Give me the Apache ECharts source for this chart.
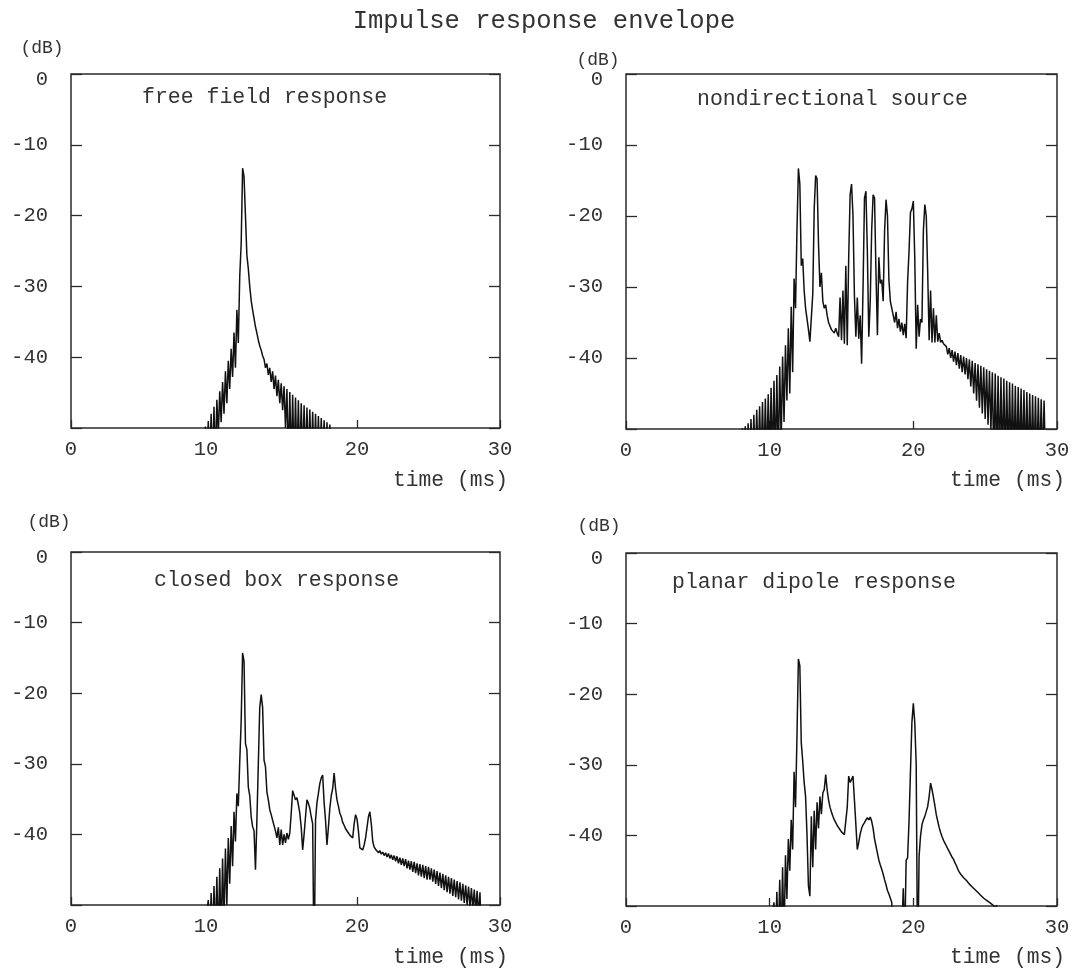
<!DOCTYPE html>
<html><head><meta charset="utf-8">
<script src="https://cdn.jsdelivr.net/npm/echarts@6/dist/echarts.min.js"></script>
<style>html,body{margin:0;padding:0;background:#fff}#chart{width:1073px;height:970px}</style>
</head><body><div id="chart"></div>
<script>
// ---- data (time in ms, level in dB) ----
const sampleStep = 0.1;            // ms between samples
const xTickValues = [0, 10, 20, 30];
const yTickValues = [0, -10, -20, -30, -40];
const chartTitle = 'Impulse response envelope';
const panelTitles = ['free field response', 'nondirectional source', 'closed box response', 'planar dipole response'];

const freeFieldStart = 9.4;
const freeFieldDb = [
 -49.8,-55,-49.0,-55,-48.0,-55,-47.0,-55,-46.0,-51,
 -44.8,-49.2,-43.5,-48.0,-42.0,-46.5,-40.5,-44.5,-38.8,-42.8,
 -36.5,-41.5,-33.3,-38,-28.6,-24,-13.3,-14.5,-20,-25.6,
 -27.5,-30.0,-32.0,-33.3,-34.5,-35.7,-36.6,-37.6,-38.4,-39.0,
 -39.8,-40.3,-41.5,-40.9,-42.5,-41.5,-43.5,-42.0,-44.5,-42.6,
 -45.5,-43.2,-46.5,-43.7,-47.5,-44.1,-50,-44.5,-55,-44.9,
 -55,-45.3,-55,-45.7,-55,-46.1,-55,-46.5,-55,-46.8,
 -55,-47.1,-55,-47.4,-55,-47.7,-55,-48.0,-55,-48.3,
 -55,-48.6,-55,-48.9,-55,-49.2,-55,-49.5,-55
];

const nondirStart = 8.0;
const nondirDb = [
 -52,-49.9,-55,-49.6,-55,-49.2,-55,-48.6,-55,-48.0,
 -55,-47.3,-55,-46.8,-55,-46.2,-55,-45.7,-55,-45.1,
 -55,-44.2,-55,-43.2,-55,-42.4,-55,-41.2,-52,-39.8,
 -49,-38.2,-46,-35.8,-45,-32.8,-42,-28.8,-33,-22,
 -13.3,-15.5,-27,-26,-30.5,-33,-34.5,-36,-37.7,-37.7,
 -31,-19,-14.3,-14.8,-24,-30,-28,-32,-33,-32.5,
 -34,-35,-35,-36,-36,-36.5,-35.8,-36.5,-37,-31.5,
 -37.5,-30.5,-38,-27,-38.2,-26,-17,-15.5,-20,-31.3,
 -37,-31.5,-37.3,-34,-40.8,-30,-17.5,-16.5,-25,-37,
 -32,-22,-17,-17.5,-28,-36.8,-25.8,-29.5,-29,-32,
 -22,-17.7,-20,-29,-32,-33,-34,-35,-33.5,-35.8,
 -34.5,-36.3,-35,-36.8,-35.2,-37.2,-29.3,-25,-19.5,-19,
 -17.9,-26,-38.7,-32.5,-37,-34.5,-35,-22,-18.4,-20,
 -28,-37.5,-30.5,-37.8,-33,-37.8,-34,-37.7,-36.5,-37.8,
 -37.5,-38,-38.2,-38.4,-39.5,-38.6,-40.0,-38.9,-40.5,-39.1,
 -41.0,-39.3,-41.5,-39.6,-42.0,-39.8,-42.3,-40.0,-43.0,-40.2,
 -44.0,-40.4,-45.0,-40.7,-46.0,-40.9,-47.0,-41.1,-47.8,-41.3,
 -48.6,-41.6,-49.4,-41.8,-50.2,-42.0,-55,-42.2,-55,-42.5,
 -55,-42.7,-55,-42.9,-55,-43.2,-55,-43.4,-55,-43.6,
 -55,-43.9,-55,-44.1,-55,-44.3,-55,-44.5,-55,-44.8,
 -55,-45.0,-55,-45.2,-55,-45.4,-55,-45.6,-55,-45.8,
 -55,-46.0,-55
];

const closedBoxStart = 9.5;
const closedBoxDb = [
 -51,-49.3,-55,-48.3,-55,-47.3,-55,-46.0,-55,-44.8,
 -55,-43.4,-53,-42.0,-50,-40.5,-47,-38.8,-44.5,-36.8,
 -41,-34.2,-36,-29.7,-24,-14.3,-15.5,-27.1,-28,-33.3,
 -34.5,-37.5,-38.9,-39.5,-45,-38,-30,-22,-20.2,-22,
 -29.5,-30.4,-34,-35.1,-36.5,-37.2,-38,-38.2,-39.5,-40.5,
 -39,-41.5,-39.3,-41.5,-40,-41.2,-39.8,-40.7,-39.8,-37,
 -33.8,-33.6,-35.1,-34.8,-35.8,-37,-39,-42.2,-40,-37.5,
 -35.1,-35.6,-36.3,-37.5,-38.5,-60,-38,-35.5,-34.2,-32.8,
 -32,-31.6,-35.5,-38,-41.5,-39,-36.3,-34.5,-33.5,-31.3,
 -33.5,-35.1,-36,-37,-37.5,-38.3,-38.7,-39.2,-39.4,-39.8,
 -40.1,-40.3,-40.5,-38.5,-37.2,-37.8,-39.5,-41.9,-42,-42.2,
 -41.5,-40.5,-39,-37.5,-36.8,-38.5,-41,-41.8,-42.1,-42.2,
 -42.6,-42.3,-42.8,-42.5,-43.0,-42.6,-43.2,-42.7,-43.4,-42.9,
 -43.6,-43.0,-43.8,-43.1,-44.1,-43.3,-44.3,-43.4,-44.5,-43.5,
 -44.8,-43.7,-45.0,-43.8,-45.3,-43.9,-45.5,-44.1,-45.8,-44.2,
 -46.0,-44.3,-46.2,-44.5,-46.4,-44.6,-46.4,-44.8,-46.7,-45.0,
 -47.0,-45.2,-47.3,-45.4,-47.6,-45.6,-47.9,-45.8,-48.2,-46.0,
 -48.4,-46.2,-48.7,-46.4,-48.9,-46.6,-49.2,-46.8,-49.4,-47.0,
 -49.7,-47.2,-50.0,-47.4,-50.3,-47.6,-50.6,-47.8,-51,-48.0,
 -51.5,-48.2,-55
];

const dipoleStart = 10.2;
const dipoleDb = [
 -51,-49.5,-55,-48,-55,-46.3,-55,-44.5,-55,-42.8,
 -49,-40.5,-45,-37.8,-42,-31,-36,-26,-15,-16,
 -26.9,-29.5,-32.5,-34.5,-40,-47.2,-48.6,-37.3,-44.5,-36.5,
 -42,-35.3,-39,-34.5,-37,-34,-33.5,-31.4,-33.5,-35,
 -36,-36.7,-37.3,-37.8,-38.2,-38.6,-38.9,-39.2,-39.5,-39.7,
 -39.9,-40,-36,-31.6,-32.5,-32.3,-31.6,-35,-38.5,-42,
 -41,-39.8,-39,-38.5,-38.2,-37.8,-37.5,-37.8,-37.4,-38,
 -39,-40.5,-41.5,-42.5,-43.5,-44.2,-44.8,-45.5,-46.3,-47.0,
 -47.8,-48.3,-48.9,-49.5,-55,-60,-60,-60,-60,-60,
 -60,-47.5,-55,-43.5,-43.2,-38,-31,-24,-21.3,-24,
 -30,-60,-43,-40.1,-38.5,-37.8,-37.3,-36.6,-35.9,-34.5,
 -32.6,-33.5,-34.6,-35.8,-37.1,-38,-38.9,-39.6,-40.2,-40.7,
 -41.1,-41.5,-41.9,-42.3,-42.7,-43.1,-43.4,-43.9,-44.3,-44.8,
 -45.2,-45.5,-45.7,-46.0,-46.1,-46.4,-46.4,-46.9,-46.7,-47.3,
 -47.1,-47.7,-47.5,-48.1,-47.9,-48.5,-48.3,-48.9,-48.7,-49.2,
 -49.0,-49.5,-49.3,-49.8,-49.6,-50.2,-49.9,-55
];

// ---- build ----
const FONT = '"Liberation Mono","Courier New",monospace';
const INK = '#2a2a2a';
function toPairs(start, values) {
  return values.map((v, i) => [Math.round((start + i * sampleStep) * 100) / 100, v]);
}
const seriesData = [
  toPairs(freeFieldStart, freeFieldDb),
  toPairs(nondirStart, nondirDb),
  toPairs(closedBoxStart, closedBoxDb),
  toPairs(dipoleStart, dipoleDb)
];

const grids = [
  {left: 71, top: 74, width: 429, height: 354},
  {left: 626, top: 74, width: 431, height: 355},
  {left: 71, top: 552, width: 429, height: 353},
  {left: 626, top: 553, width: 431, height: 353}
];
const titlePos = [[142, 97], [697, 99], [154, 580], [672, 582]];
const dbPos = [[42, 48], [598, 60], [49, 522], [599, 526]];
const timePos = [[508, 480], [1065, 480], [508, 957], [1065, 957]];

const xAxes = [], yAxes = [], yAxesR = [], series = [];
grids.forEach((g, i) => {
  const shiftTen = (i === 0 || i === 2);
  xAxes.push({
    gridIndex: i, type: 'value', position: 'bottom',
    min: xTickValues[0], max: xTickValues[xTickValues.length - 1], interval: 10,
    axisLine: {show: false, onZero: false}, splitLine: {show: false},
    axisTick: {show: true, inside: true, length: 8, lineStyle: {color: INK, width: 1.3}},
    axisLabel: {
      margin: 11, color: '#333', fontFamily: FONT, fontSize: 20.5,
      formatter: v => (shiftTen && v === 10) ? '{t|10}' : String(v),
      rich: {t: {fontFamily: FONT, fontSize: 20.5, color: '#333', padding: [0, 16, 0, 0]}}
    }
  });
  yAxes.push({
    gridIndex: i, type: 'value', min: -50, max: 0, interval: 10, position: 'left',
    axisLine: {show: false, onZero: false}, splitLine: {show: false},
    axisTick: {show: true, inside: true, length: 11, lineStyle: {color: INK, width: 1.3}},
    axisLabel: {
      margin: 23, color: '#333', fontFamily: FONT, fontSize: 20.5,
      formatter: v => yTickValues.indexOf(v) < 0 ? '' : (v === 0 ? '{z|0}' : String(v)),
      rich: {z: {fontFamily: FONT, fontSize: 20.5, color: '#333', padding: [12, 0, 0, 0]}}
    }
  });
  yAxesR.push({
    gridIndex: i, type: 'value', min: -50, max: 0, interval: 10, position: 'right',
    axisLine: {show: false, onZero: false}, splitLine: {show: false}, axisLabel: {show: false},
    axisTick: {show: true, inside: true, length: 11, lineStyle: {color: INK, width: 1.3}}
  });
  series.push({
    type: 'line', xAxisIndex: i, yAxisIndex: i, data: seriesData[i],
    symbol: 'none', showSymbol: false, clip: true, animation: false,
    lineStyle: {color: '#111', width: 1.5}
  });
});

const graphics = [{
  type: 'text', x: 544, y: 21,
  style: {text: chartTitle, font: '25.5px ' + FONT, fill: '#333', align: 'center', verticalAlign: 'middle'}
}];
panelTitles.forEach((t, i) => {
  graphics.push({type: 'text', x: titlePos[i][0], y: titlePos[i][1],
    style: {text: t, font: '21.5px ' + FONT, fill: '#333', align: 'left', verticalAlign: 'middle'}});
  graphics.push({type: 'text', x: dbPos[i][0], y: dbPos[i][1],
    style: {text: '(dB)', font: '18px ' + FONT, fill: '#333', align: 'center', verticalAlign: 'middle'}});
  graphics.push({type: 'text', x: timePos[i][0], y: timePos[i][1],
    style: {text: 'time (ms)', font: '21.3px ' + FONT, fill: '#333', align: 'right', verticalAlign: 'middle'}});
});

const chart = echarts.init(document.getElementById('chart'), null, {renderer: 'canvas'});
chart.setOption({
  animation: false,
  backgroundColor: '#fff',
  grid: grids.map(g => Object.assign({show: true, borderColor: INK, borderWidth: 1.5, backgroundColor: 'transparent', containLabel: false}, g)),
  xAxis: xAxes,
  yAxis: yAxes.concat(yAxesR),
  series: series,
  graphic: graphics
});
</script>
</body></html>
